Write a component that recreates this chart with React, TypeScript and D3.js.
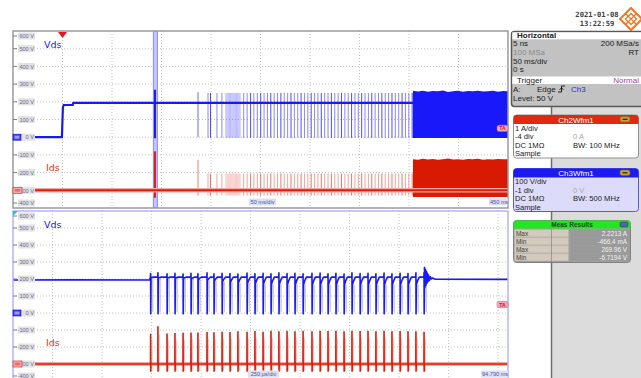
import React from "react";
import * as d3 from "d3";

// ---------------- axis / label data ----------------
const voltTicks = [600, 500, 400, 300, 200, 100, 0, -100, -200, -300, -400];
const topTimeDomain = [-50, 450];
const botTimeDomain = [92.3, 94.8];
const topTimeGrid = [0, 50, 100, 150, 200, 250, 300, 350, 400];
const botTimeGrid = [92.5, 92.75, 93.0, 93.25, 93.5, 93.75, 94.0, 94.25, 94.5, 94.75];
const topDivLabel = "50 ms/div";
const topEndLabel = "450 ms";
const botDivLabel = "250 µs/div";
const botEndLabel = "94.790 ms";
const zoomWindow = [92.3, 94.8];

// ---------------- top panel (50 ms/div) ----------------
const topVdsBase: [number, number][] = [
  [-50, 0], [-0.6, 0], [0.4, 168], [1.2, 182], [10.3, 183], [10.9, 194], [450, 194],
];
const topEventTimes = [93.4, 136.9];
const topEventVdsMax = [268, 254];
const topEventVdsMin = [-6, 0];
const topEventIdsMax = [2.2, 1.72];
const topEventIdsMin = [-0.42, -0.3];
const topTrainTimes = [
  147, 149.5, 156, 161, 165, 166.2, 167.4, 168.6, 169.8, 171, 172.2, 173.4, 174.6, 175.8, 177,
  178.2, 179.4, 183, 186.5, 190, 193.3, 196.8, 200.2, 203.6, 207, 210.4, 213.8, 217.2, 220.6,
  224, 227.4, 230.8, 234.2, 237.6, 241, 244.4, 247.8, 251.2, 254.6, 258, 261.4, 264.8, 268.2,
  271.6, 275, 278.4, 281.8, 285.2, 288.6, 292, 295.4, 298.8, 302.2, 305.6, 309, 312.4, 315.8,
  319.2, 322.6, 326, 329.4, 332.8, 336.2, 339.6, 343, 346.4, 349.8, 353.2,
];
const topTrainVdsMax = 250;
const topTrainVdsMin = -4;
const topTrainIdsMax = 0.95;
const topTrainIdsMin = -0.3;
const topBlockStart = 354;
const topBlockEnd = 450;
const topBlockVdsTop = [262, 258, 263, 257, 261, 259, 264, 256, 260, 262, 257, 261, 259, 263, 258, 260, 262, 257, 261, 259];
const topBlockVdsBottom = -5;
const topBlockIdsTop = [1.76, 1.72, 1.78, 1.74, 1.77, 1.73, 1.76, 1.79, 1.74, 1.76, 1.72, 1.77, 1.75, 1.78, 1.73, 1.76, 1.74, 1.77, 1.75, 1.76];
const topBlockIdsBottom = -0.38;

// ---------------- bottom panel (250 µs/div zoom) ----------------
const botVdsPre: [number, number][] = [[92.3, 194], [92.6, 195], [92.99, 194]];
const botVdsLevel = 211;
const botPulseTimes = [
  92.995, 93.032, 93.078, 93.118, 93.159, 93.199, 93.234, 93.28, 93.315, 93.356, 93.396, 93.436,
  93.482, 93.522, 93.563, 93.603, 93.643, 93.684, 93.724, 93.765, 93.81, 93.851, 93.891, 93.931,
  93.972, 94.012, 94.053, 94.093, 94.133, 94.174, 94.214, 94.255, 94.295, 94.335, 94.376,
];
const botPulseOver = [
  232, 236, 230, 234, 229, 233, 231, 236, 230, 234, 232, 229, 235, 231, 233, 230, 236, 232, 234,
  230, 233, 235, 231, 234, 229, 236, 232, 233, 230, 235, 231, 234, 232, 236, 238,
];
const botPulseDip = [
  208, 207, 206, 205, 204, 200, 196, 192, 188, 184, 180, 176, 174, 172, 170, 168, 168, 166, 166,
  165, 165, 164, 166, 165, 166, 164, 165, 166, 164, 165, 166, 165, 164, 166, 170,
];
const botIdsPeak = [
  1.78, 2.22, 1.8, 1.82, 1.84, 1.86, 1.85, 1.88, 1.87, 1.9, 1.88, 1.92, 1.9, 1.94, 1.9, 1.95,
  1.92, 1.96, 1.93, 1.95, 1.92, 1.96, 1.94, 1.95, 1.93, 1.96, 1.94, 1.95, 1.92, 1.95, 1.93, 1.94,
  1.92, 1.93, 1.9,
];
const botIdsMin = -0.46;
const botVdsRing: [number, number][] = [
  [94.378, 268], [94.3805, 150], [94.383, 256], [94.3855, 164], [94.388, 246], [94.3905, 175],
  [94.393, 233], [94.396, 184], [94.399, 223], [94.403, 191], [94.408, 213], [94.414, 200],
  [94.42, 206], [94.43, 199], [94.8, 198],
];

// ---------------- side panel text ----------------
const horizLeft = ["5 ns", "100 MSa", "50 ms/div", "0 s"];
const horizRight = ["200 MSa/s", "RT", "", ""];
const ch2Rows = [["1 A/div", ""], ["-4 div", "0 A"], ["DC 1MΩ", "BW: 100 MHz"], ["Sample", ""]];
const ch3Rows = [["100 V/div", ""], ["-1 div", "0 V"], ["DC 1MΩ", "BW: 500 MHz"], ["Sample", ""]];
const measLabels = ["Max", "Min", "Max", "Min"];
const measValues = ["2.2213 A", "-466.4 mA", "269.96 V", "-6.7194 V"];
const dateText = "2021-01-08";
const timeText = "13:22:59";

const BLUE = "#1818f8";
const RED = "#dc1e0a";
const SANS = "'Liberation Sans', Arial, sans-serif";

export default function App() {
  const X0 = 13, X1 = 508;
  const TY0 = 31, TY1 = 208;
  const BY0 = 211, BY1 = 381;

  const xT = d3.scaleLinear().domain(topTimeDomain).range([X0, X1]);
  const yT = d3.scaleLinear().domain([-400, 600]).range([TY1, TY0]);
  const yTI = d3.scaleLinear().domain([-1, 9]).range([TY1, TY0]);
  const xB = d3.scaleLinear().domain(botTimeDomain).range([X0, X1]);
  const yB = d3.scaleLinear().domain([-400, 600]).range([BY1, BY0]);
  const yBI = d3.scaleLinear().domain([-1, 9]).range([BY1, BY0]);

  const lineT = d3.line<[number, number]>().x((d) => xT(d[0])).y((d) => yT(d[1]));
  const lineB = d3.line<[number, number]>().x((d) => xB(d[0])).y((d) => yB(d[1]));
  const lineBI = d3.line<[number, number]>().x((d) => xB(d[0])).y((d) => yBI(d[1]));

  const nb = topBlockVdsTop.length;
  const blockT = (i: number) => topBlockStart + ((topBlockEnd - topBlockStart) * i) / (nb - 1);
  const areaVds = d3
    .area<number>()
    .x((_, i) => xT(blockT(i)))
    .y0(yT(topBlockVdsBottom))
    .y1((d) => yT(d));
  const areaIds = d3
    .area<number>()
    .x((_, i) => xT(blockT(i)))
    .y0(yTI(topBlockIdsBottom))
    .y1((d) => yTI(d));

  const botVdsPts: [number, number][] = [...botVdsPre];
  botPulseTimes.forEach((t, i) => {
    const dip = botPulseDip[i];
    botVdsPts.push(
      [t - 0.001, botVdsLevel],
      [t, botPulseOver[i]],
      [t + 0.0006, -5],
      [t + 0.0022, dip],
      [t + 0.008, (dip + botVdsLevel) / 2],
      [t + 0.017, botVdsLevel]
    );
  });
  botVdsRing.forEach((p) => botVdsPts.push(p));

  const botIdsPts: [number, number][] = [[92.3, 0]];
  botPulseTimes.forEach((t, i) => {
    botIdsPts.push([t - 0.0005, 0], [t, botIdsPeak[i]], [t + 0.0006, botIdsMin], [t + 0.0016, 0.06], [t + 0.003, 0]);
  });
  botIdsPts.push([94.8, 0]);

  const gridStyle = { stroke: "#c4c4c4", strokeWidth: 1, strokeDasharray: "1,2" };

  const yLabels = (ys: (v: number) => number, top: number, bottom: number) =>
    voltTicks.map((v) => {
      let y = ys(v);
      if (y < top + 5) y = top + 5;
      if (y > bottom - 5) y = bottom - 5;
      return (
        <g key={v}>
          <line x1={X0} x2={17} y1={y} y2={y} stroke="#808080" strokeWidth={1} />
          <rect x={18} y={y - 3.5} width={17} height={7} fill="#e2e2e2" />
          <text x={34} y={y + 2.2} fontSize={5.6} fill="#6a6a98" textAnchor="end" fontFamily={SANS}>
            {`${v} V`}
          </text>
        </g>
      );
    });

  const chMarkers = (y0v: number, y0a: number) => (
    <g>
      <rect x={13} y={y0v - 3} width={8} height={6} fill="#3c3cff" stroke="#1010c0" strokeWidth={0.6} />
      <rect x={14.5} y={y0v - 1.5} width={5} height={3} fill="#9a9aff" />
      <rect x={13} y={y0a - 3} width={9} height={6} fill="#f4b0b0" stroke="#e03030" strokeWidth={0.7} />
      <rect x={14.8} y={y0a - 1.3} width={5.4} height={2.6} fill="#e86a6a" />
    </g>
  );

  const chBox = (
    y: number,
    title: string,
    head: string,
    body: string,
    border: string,
    rows: string[][]
  ) => (
    <g>
      <rect x={513.5} y={y + 0.5} width={125} height={43} rx={3} fill={body} stroke={border} strokeWidth={1} />
      <path
        d={`M513.5 ${y + 9.5} V${y + 3.5} Q513.5 ${y + 0.5} 516.5 ${y + 0.5} H635.5 Q638.5 ${y + 0.5} 638.5 ${y + 3.5} V${y + 9.5} Z`}
        fill={head}
      />
      <text x={576} y={y + 8} fontSize={8} fill="#fff" textAnchor="middle" fontFamily={SANS}>
        {title}
      </text>
      <rect x={620} y={y + 2} width={10} height={5.5} rx={2} fill="#c8a038" stroke="#806020" strokeWidth={0.6} />
      <line x1={622.5} x2={627.5} y1={y + 4.8} y2={y + 4.8} stroke="#302010" strokeWidth={1.2} />
      {rows.map((r, i) => (
        <g key={i}>
          <text x={515} y={y + 16 + i * 8.5} fontSize={7.6} fill="#202020" fontFamily={SANS}>
            {r[0]}
          </text>
          <text
            x={573}
            y={y + 16 + i * 8.5}
            fontSize={7.6}
            fill={i === 1 ? "#a8a8a8" : "#202020"}
            fontFamily={SANS}
          >
            {r[1]}
          </text>
        </g>
      ))}
    </g>
  );

  return (
    <svg
      width={641}
      height={378}
      style={{ position: "absolute", left: 0, top: 0, background: "#fff" }}
      fontFamily={SANS}
    >
      <defs>
        <clipPath id="clipTop">
          <rect x={X0} y={TY0} width={X1 - X0} height={TY1 - TY0} />
        </clipPath>
        <clipPath id="clipBot">
          <rect x={X0} y={BY0} width={X1 - X0} height={BY1 - BY0} />
        </clipPath>
      </defs>
      <rect x={0} y={0} width={641} height={378} fill="#fff" />

      {/* ---------- right side panel background ---------- */}
      <rect x={552} y={107} width={89} height={271} fill="#dcdcdc" />
      <line x1={551.5} x2={551.5} y1={107} y2={378} stroke="#6e6e6e" strokeWidth={1.5} />

      {/* ---------- timestamp + logo ---------- */}
      <text x={597} y={16.5} fontSize={7.2} fontWeight="bold" fill="#404040" textAnchor="middle" fontFamily="'DejaVu Sans Mono', monospace">
        {dateText}
      </text>
      <text x={597} y={25.5} fontSize={7.2} fontWeight="bold" fill="#404040" textAnchor="middle" fontFamily="'DejaVu Sans Mono', monospace">
        {timeText}
      </text>
      <g stroke="#f07828" fill="none" strokeWidth={2}>
        <path d="M631 8 L642 19 L631 30 L620 19 Z" />
        <path d="M625.5 19 L631 13.5 L636.5 19 L631 24.5 Z" strokeWidth={1.4} />
        <path d="M625.5 13.5 L636.5 24.5 M636.5 13.5 L625.5 24.5" strokeWidth={1.2} />
      </g>

      {/* ---------- Horizontal / Trigger box ---------- */}
      <rect x={511.5} y={31.5} width={135} height={75} rx={3} fill="#c2c2c2" stroke="#585858" strokeWidth={1.5} />
      <rect x={512.3} y={32.3} width={130} height={7} fill="#fff" />
      <text x={517} y={38.2} fontSize={8} fontWeight="bold" fill="#202020">Horizontal</text>
      {horizLeft.map((t, i) => (
        <text key={i} x={513} y={46 + i * 8.8} fontSize={8} fill={i === 1 ? "#8c8c8c" : "#202020"}>
          {t}
        </text>
      ))}
      {horizRight.map((t, i) => (
        <text key={i} x={639} y={46 + i * 8.8} fontSize={8} fill="#202020" textAnchor="end">
          {t}
        </text>
      ))}
      <rect x={512.3} y={76.5} width={130} height={7.5} fill="#fff" />
      <text x={517} y={82.8} fontSize={8} fill="#202020">Trigger</text>
      <text x={639} y={82.8} fontSize={8} fill="#9a4aa8" textAnchor="end">Normal</text>
      <text x={513} y={92} fontSize={8} fill="#202020">A:</text>
      <text x={537} y={92} fontSize={8} fill="#202020">Edge</text>
      <path d="M558 92 H561.5 V86 H565" stroke="#202020" strokeWidth={1} fill="none" />
      <path d="M559.5 90 L561.5 87.5 L563.5 90" stroke="#202020" strokeWidth={0.8} fill="none" />
      <text x={571} y={92} fontSize={8} fill="#2a2ae8">Ch3</text>
      <text x={513} y={101} fontSize={8} fill="#202020">Level: 50 V</text>

      {/* ---------- channel boxes ---------- */}
      {chBox(114.5, "Ch2Wfm1", "#e02a10", "#ffffff", "#909090", ch2Rows)}
      {chBox(168, "Ch3Wfm1", "#1c1cf0", "#dcdcfa", "#5858d8", ch3Rows)}

      {/* ---------- measurement box ---------- */}
      <g>
        <rect x={513.5} y={220.5} width={117} height={42} rx={3} fill="#a0a0a0" stroke="#808080" strokeWidth={1} />
        <path d="M513.5 228.5 V223.5 Q513.5 220.5 516.5 220.5 H627.5 Q630.5 220.5 630.5 223.5 V228.5 Z" fill="#22e622" />
        <text x={572} y={226.8} fontSize={6.5} fontWeight="bold" fill="#1a4a1a" textAnchor="middle">Meas Results</text>
        <rect x={620} y={222} width={8} height={5} rx={1.5} fill="#4a6aa0" stroke="#203050" strokeWidth={0.5} />
        {measLabels.map((l, i) => (
          <g key={i}>
            <rect x={514.5} y={229.5 + i * 8} width={54} height={7.3} fill="#d2cabc" />
            <rect x={569.5} y={229.5 + i * 8} width={60} height={7.3} fill="#9a9a9a" />
            <text x={516} y={235.5 + i * 8} fontSize={6.4} fill="#404040">{l}</text>
            <text x={627} y={235.5 + i * 8} fontSize={6.4} fill="#f2f2f2" textAnchor="end">{measValues[i]}</text>
          </g>
        ))}
        <line x1={551.5} x2={551.5} y1={229} y2={262} stroke="#6e6e6e" strokeWidth={1} opacity={0.5} />
      </g>

      {/* =================== TOP PANEL =================== */}
      <g>
        {voltTicks.slice(1, -1).map((v) => (
          <line key={v} x1={X0} x2={X1} y1={yT(v)} y2={yT(v)} style={gridStyle} />
        ))}
        {topTimeGrid.map((t) => (
          <line key={t} x1={xT(t)} x2={xT(t)} y1={TY0} y2={TY1} style={gridStyle} />
        ))}
        <g clipPath="url(#clipTop)">
          <rect
            x={xT(zoomWindow[0]) - 0.5}
            y={TY0}
            width={xT(zoomWindow[1]) - xT(zoomWindow[0]) + 1.5}
            height={TY1 - TY0}
            fill="#c4c4ff"
            stroke="#8a8af4"
            strokeWidth={1}
          />
          {topTrainTimes.map((t, i) => (
            <g key={t} opacity={i >= 4 && i <= 16 ? 0.35 : i % 3 === 1 ? 0.9 : 0.6}>
              <line x1={xT(t)} x2={xT(t)} y1={yT(topTrainVdsMax)} y2={yT(topTrainVdsMin)} stroke="#3a3aff" strokeWidth={1} />
              <line x1={xT(t)} x2={xT(t)} y1={yTI(topTrainIdsMax)} y2={yTI(topTrainIdsMin)} stroke="#ec6a5a" strokeWidth={1} />
            </g>
          ))}
          {topEventTimes.map((t, i) => (
            <g key={t}>
              <line x1={xT(t)} x2={xT(t)} y1={yT(topEventVdsMax[i])} y2={yT(topEventVdsMin[i])} stroke={i === 0 ? BLUE : "#6a6aff"} strokeWidth={i === 0 ? 2 : 1} />
              <line x1={xT(t)} x2={xT(t)} y1={yTI(topEventIdsMax[i])} y2={yTI(topEventIdsMin[i])} stroke={i === 0 ? RED : "#f08070"} strokeWidth={i === 0 ? 2 : 1} />
            </g>
          ))}
          <path d={areaVds(topBlockVdsTop) || ""} fill={BLUE} />
          <path d={areaIds(topBlockIdsTop) || ""} fill="#d81a02" />
          <path d={lineT(topVdsBase) || ""} fill="none" stroke={BLUE} strokeWidth={2.2} />
          <line x1={X0} x2={X1} y1={yTI(0)} y2={yTI(0)} stroke="#f4a8a0" strokeWidth={4.5} />
          <line x1={X0} x2={X1} y1={yTI(0)} y2={yTI(0)} stroke={RED} strokeWidth={2} />
        </g>
        <rect x={X0} y={TY0} width={X1 - X0} height={TY1 - TY0} fill="none" stroke="#9a9a9a" strokeWidth={1.5} />
        {yLabels(yT, TY0, TY1)}
        <path d={`M${xT(0) - 4.5} ${TY0 + 1} H${xT(0) + 4.5} L${xT(0)} ${TY0 + 7} Z`} fill="#e8161a" />
        {chMarkers(yT(0), yTI(0))}
        <rect x={497} y={yT(50) - 3.2} width={11} height={6.4} rx={2} fill="#f0a8bc" stroke="#d85070" strokeWidth={0.5} />
        <text x={502.5} y={yT(50) + 2} fontSize={5} fill="#c01830" textAnchor="middle" fontWeight="bold">TA</text>
        <rect x={249} y={198.5} width={27} height={7} fill="#dde0f2" />
        <text x={262.5} y={204} fontSize={5.6} fill="#4a56a8" textAnchor="middle">{topDivLabel}</text>
        <rect x={489} y={198.5} width={19} height={7} fill="#dde0f2" />
        <text x={490} y={204} fontSize={5.6} fill="#4a56a8">{topEndLabel}</text>
        <text x={44} y={47.5} fontSize={9.5} fill={BLUE} fontFamily="'DejaVu Sans', sans-serif">Vds</text>
        <text x={46} y={171} fontSize={9.5} fill="#e8341e" fontFamily="'DejaVu Sans', sans-serif">Ids</text>
      </g>

      {/* =================== BOTTOM PANEL =================== */}
      <g>
        {voltTicks.slice(1, -1).map((v) => (
          <line key={v} x1={X0} x2={X1} y1={yB(v)} y2={yB(v)} style={gridStyle} />
        ))}
        {botTimeGrid.map((t) => (
          <line key={t} x1={xB(t)} x2={xB(t)} y1={BY0} y2={BY1} style={gridStyle} />
        ))}
        <g clipPath="url(#clipBot)">
          {botPulseTimes.map((t, i) => (
            <g key={t}>
              <line x1={xB(t + 0.011)} x2={xB(t + 0.011)} y1={yB(botPulseDip[i])} y2={yB(6)} stroke="#7a7aff" strokeWidth={1} opacity={0.55} />
              <line x1={xB(t + 0.007)} x2={xB(t + 0.007)} y1={yBI(botIdsPeak[i] * 0.78)} y2={yBI(botIdsMin + 0.05)} stroke="#f09080" strokeWidth={1} opacity={0.6} />
            </g>
          ))}
          <path d={lineB(botVdsPts) || ""} fill="none" stroke={BLUE} strokeWidth={1.6} strokeLinejoin="round" />
          <line x1={X0} x2={X1} y1={yBI(0)} y2={yBI(0)} stroke="#f4a8a0" strokeWidth={4} />
          <path d={lineBI(botIdsPts) || ""} fill="none" stroke={RED} strokeWidth={1.6} />
        </g>
        <rect x={X0} y={BY0} width={X1 - X0} height={BY1 - BY0} fill="none" stroke="#b4b4ff" strokeWidth={1.5} />
        <path d={`M${X0} ${BY0} H${X0 + 5} L${X0} ${BY0 + 5} Z`} fill="#22c4d4" />
        {yLabels(yB, BY0, BY1)}
        {chMarkers(yB(0), yBI(0))}
        <rect x={497} y={yB(50) - 3.2} width={11} height={6.4} rx={2} fill="#f0a8bc" stroke="#d85070" strokeWidth={0.5} />
        <text x={502.5} y={yB(50) + 2} fontSize={5} fill="#c01830" textAnchor="middle" fontWeight="bold">TA</text>
        <rect x={248} y={370.5} width={31} height={7} fill="#dde0f2" />
        <text x={263.5} y={376} fontSize={5.6} fill="#4a56a8" textAnchor="middle">{botDivLabel}</text>
        <rect x={481} y={370.5} width={27} height={7} fill="#dde0f2" />
        <text x={482} y={376} fontSize={5.6} fill="#4a56a8">{botEndLabel}</text>
        <text x={44} y={227.5} fontSize={9.5} fill={BLUE} fontFamily="'DejaVu Sans', sans-serif">Vds</text>
        <text x={46} y={345.5} fontSize={9.5} fill="#e8341e" fontFamily="'DejaVu Sans', sans-serif">Ids</text>
      </g>
    </svg>
  );
}
